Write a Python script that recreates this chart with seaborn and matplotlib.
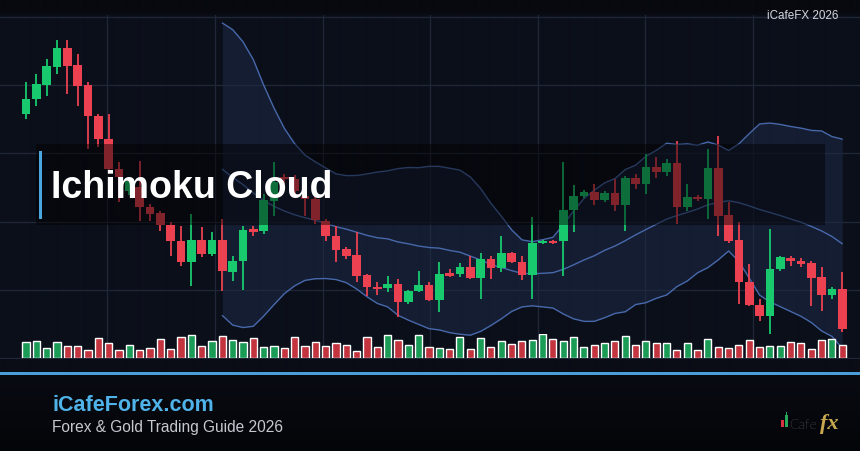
import numpy as np
import pandas as pd
import matplotlib
matplotlib.use("Agg")
import matplotlib.pyplot as plt
import seaborn as sns
from matplotlib.patches import Rectangle

# ---------------- data (price points) ----------------
open_ = [285, 300, 314, 332, 351, 334, 314, 283, 260, 230,
         208, 212, 192, 186, 174, 158, 137, 159, 145, 159,
         127, 138, 170, 168, 198, 222, 220, 203, 200, 178,
         163, 150, 144, 124, 112, 111, 115, 97, 108, 114,
         99, 126, 125, 132, 121, 140, 131, 146, 137, 124,
         156, 158, 158, 189, 203, 207, 199, 206, 194, 221,
         215, 232, 227, 236, 192, 202, 200, 231, 184, 159,
         117, 94, 83, 130, 141, 138, 136, 122, 104, 110]
high = [317, 325, 340, 359, 359, 345, 317, 285, 285, 237,
        222, 238, 195, 188, 177, 173, 185, 172, 167, 180,
        143, 173, 173, 205, 237, 225, 224, 220, 205, 180,
        173, 152, 167, 125, 117, 123, 120, 109, 128, 117,
        137, 130, 136, 143, 146, 143, 163, 147, 143, 182,
        159, 159, 237, 214, 209, 215, 208, 220, 223, 225,
        245, 242, 240, 258, 215, 204, 250, 263, 197, 177,
        135, 100, 170, 143, 143, 141, 138, 132, 112, 127]
low = [280, 293, 303, 325, 305, 293, 250, 252, 225, 197,
       204, 178, 178, 168, 143, 133, 113, 142, 143, 108,
       118, 109, 163, 165, 183, 215, 202, 183, 175, 158,
       137, 140, 117, 103, 104, 107, 82, 95, 107, 98,
       87, 122, 122, 120, 100, 120, 127, 136, 119, 100,
       155, 155, 123, 167, 201, 194, 197, 188, 168, 210,
       205, 221, 223, 175, 188, 198, 180, 163, 156, 95,
       93, 78, 65, 128, 133, 132, 93, 88, 100, 67]
close = [300, 315, 333, 351, 333, 313, 283, 260, 230, 222,
         218, 192, 185, 174, 158, 137, 159, 145, 159, 128,
         138, 169, 167, 199, 217, 220, 208, 200, 179, 163,
         149, 143, 123, 112, 110, 115, 97, 108, 114, 99,
         125, 123, 132, 121, 140, 131, 146, 137, 124, 156,
         158, 156, 189, 203, 207, 199, 206, 194, 221, 215,
         232, 227, 236, 192, 202, 200, 231, 183, 158, 117,
         94, 83, 130, 142, 138, 135, 121, 104, 110, 70]
volume = [16, 17, 10, 16, 12, 12, 8, 20, 15, 8,
          13, 8, 10, 19, 9, 21, 23, 12, 17, 22,
          18, 16, 20, 11, 12, 10, 21, 12, 16, 12,
          15, 13, 7, 21, 11, 23, 18, 13, 23, 11,
          10, 9, 21, 9, 20, 11, 17, 14, 17, 18,
          24, 19, 17, 21, 11, 13, 15, 17, 22, 13,
          17, 15, 15, 8, 15, 8, 19, 11, 10, 13,
          18, 11, 12, 12, 16, 15, 9, 18, 19, 13]
band_period = 20

title = "Ichimoku Cloud"
brand = "iCafeForex.com"
subtitle = "Forex & Gold Trading Guide 2026"
corner = "iCafeFX 2026"

# ---------------- styling ----------------
W, H = 860, 452
sns.set_theme(style="dark")
plt.rcParams["font.family"] = ["Liberation Sans", "DejaVu Sans"]

fig = plt.figure(figsize=(W / 100, H / 100), dpi=100)


def fx(x):
    return x / W


def fy(y):
    return 1 - y / H


# background gradient image
rows = np.zeros((H, 1, 3))
top_c = np.array([7, 9, 14])
plot_c = np.array([11, 15, 26])
mid_c = np.array([10, 13, 22])
foot_a = np.array([9, 11, 19])
foot_b = np.array([4, 5, 8])
for r in range(H):
    if r < 12:
        col = top_c
    elif r < 17:
        t = (r - 12) / 5
        col = top_c + t * (plot_c - top_c)
    elif r < 360:
        col = plot_c
    elif r < 376:
        col = mid_c
    else:
        t = (r - 376) / (H - 376)
        col = foot_a + t * (foot_b - foot_a)
    rows[r, 0] = col / 255
bg = fig.add_axes([0, 0, 1, 1], zorder=-10)
bg.imshow(rows, aspect="auto", extent=(0, 1, 0, 1), interpolation="bilinear")
bg.axis("off")

n = len(close)
idx = np.arange(n)
step = 10.333
x0 = 26
xl = (-x0 / step, (W - x0) / step)

o = np.array(open_, float)
c = np.array(close, float)
hi = np.array(high, float)
lo = np.array(low, float)
up = c >= o

# ---------------- main price axes ----------------
ax = fig.add_axes([0, fy(360), 1, (360 - 16) / H], zorder=1)
ax.set_facecolor("none")
ax.set_xlim(xl)
ax.set_ylim(40, 384)
ax.set_xticks([xl[0] + k / 8 * (xl[1] - xl[0]) for k in range(1, 8)])
ax.set_yticks([382 - 68.2 * k for k in range(6)])
ax.grid(True, color="#202738", lw=0.9)
ax.set_axisbelow(True)
ax.tick_params(length=0, labelbottom=False, labelleft=False)
for sp in ax.spines.values():
    sp.set_visible(False)

s = pd.Series(c)
mid = s.rolling(band_period).mean()
sd = s.rolling(band_period).std(ddof=0)
upper = mid + 2 * sd
lower = mid - 2 * sd
ax.fill_between(idx, lower, upper, color="#1d2946", alpha=0.55, lw=0, zorder=1)
for ser in (upper, mid, lower):
    sns.lineplot(x=idx, y=ser.values, ax=ax, color="#4d71b8", lw=1.0, alpha=0.9, zorder=2)

cols = np.where(up, "#18c96e", "#eb4150")
ax.vlines(idx, lo, hi, colors=cols, lw=1.3, zorder=3)
body = np.maximum(np.abs(c - o), 1.2)
ax.bar(idx, body, bottom=np.minimum(o, c), width=0.85, color=cols, lw=0, zorder=4)
ax.set_xlim(xl)
ax.set_ylim(40, 384)

# ---------------- volume axes ----------------
axv = fig.add_axes([0, fy(359.3), 1, 24 / H], zorder=2)
axv.set_facecolor("none")
df = pd.DataFrame({"i": idx, "vol": volume, "dir": np.where(up, "up", "down")})
sns.barplot(data=df, x="i", y="vol", hue="dir",
            palette={"up": "#1a9b56", "down": "#c3343e"},
            native_scale=True, width=0.68, dodge=False, saturation=1,
            legend=False, ax=axv)
axv.set_xlim(xl)
axv.set_ylim(0, 24)
axv.axis("off")

# ---------------- title box ----------------
fig.add_artist(Rectangle((fx(36), fy(226)), fx(825) - fx(36), (226 - 145) / H,
                         transform=fig.transFigure, facecolor="black", alpha=0.45,
                         lw=0, zorder=5))
fig.add_artist(Rectangle((fx(38.5), fy(220)), 3.5 / W, 68 / H,
                         transform=fig.transFigure, facecolor="#4aa8e0", lw=0, zorder=6))
fig.text(fx(51), fy(198.3), title, fontsize=27, fontweight="bold", color="white",
         va="baseline", ha="left", zorder=7)

# corner label
fig.text(fx(838), fy(19.3), corner, fontsize=8.4, color="#d2d6dd",
         va="baseline", ha="right", zorder=7)

# footer line
fig.add_artist(Rectangle((0, fy(376)), 1, 3.2 / H, transform=fig.transFigure,
                         facecolor="#4a9fd8", lw=0, zorder=6))
fig.text(fx(52), fy(411), brand, fontsize=15.5, fontweight="bold", color="#4fb3ea",
         va="baseline", ha="left", zorder=7)
fig.text(fx(52.5), fy(431.7), subtitle, fontsize=11.2, color="#c4c8cf",
         va="baseline", ha="left", zorder=7)

# logo
fig.add_artist(Rectangle((fx(780.7), fy(428.3)), 2.8 / W, 7.6 / H, transform=fig.transFigure,
                         facecolor="#d8343f", lw=0, zorder=6))
fig.add_artist(Rectangle((fx(784.7), fy(428.3)), 3.6 / W, 12.3 / H, transform=fig.transFigure,
                         facecolor="#27a95c", lw=0, zorder=6))
fig.add_artist(Rectangle((fx(786.2), fy(416)), 0.8 / W, 3.5 / H, transform=fig.transFigure,
                         facecolor="#27a95c", lw=0, zorder=6))
fig.text(fx(789), fy(429), "Cafe", fontsize=10, color="#9a9ea7",
         family=["Lato", "DejaVu Sans"], fontweight="light",
         va="baseline", ha="left", zorder=7)
fig.text(fx(819.5), fy(429), "fx", fontsize=16, color="#c9a94f",
         family=["Liberation Serif", "DejaVu Serif"], fontweight="bold", fontstyle="italic",
         va="baseline", ha="left", zorder=7)

fig.savefig("out.png", dpi=100, facecolor="#06070c")
